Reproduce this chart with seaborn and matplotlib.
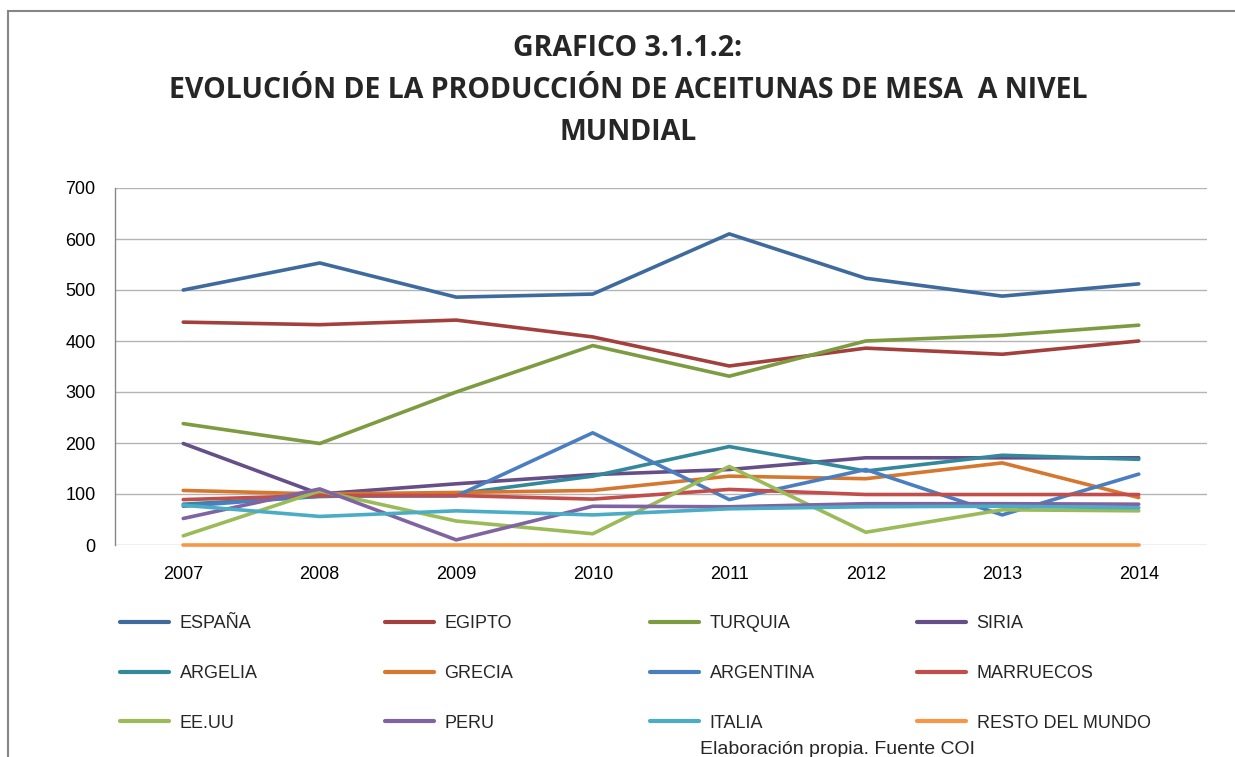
import numpy as np
import pandas as pd
import matplotlib
matplotlib.use("Agg")
import matplotlib.pyplot as plt
from matplotlib.patches import Rectangle
from matplotlib.lines import Line2D
import seaborn as sns

# ===== datos (miles de t) =====
years = ["2007", "2008", "2009", "2010", "2011", "2012", "2013", "2014"]
espana = [500, 553, 486, 492, 610, 523, 488, 512]
egipto = [437, 432, 441, 408, 351, 386, 374, 400]
turquia = [238, 199, 300, 391, 331, 400, 411, 431]
siria = [199, 100, 120, 138, 148, 171, 171, 171]
argelia = [80, 95, 100, 135, 193, 145, 176, 168]
grecia = [107, 100, 103, 107, 135, 130, 161, 93]
argentina = [76, 96, 96, 220, 89, 148, 59, 139]
marruecos = [89, 97, 97, 90, 109, 99, 99, 99]
eeuu = [18, 106, 47, 22, 154, 25, 69, 67]
peru = [52, 110, 10, 76, 75, 81, 81, 80]
italia = [78, 56, 67, 59, 71, 75, 76, 73]
resto = [0, 0, 0, 0, 0, 0, 0, 0]

series = ["ESPAÑA", "EGIPTO", "TURQUIA", "SIRIA", "ARGELIA", "GRECIA",
          "ARGENTINA", "MARRUECOS", "EE.UU", "PERU", "ITALIA", "RESTO DEL MUNDO"]
values = [espana, egipto, turquia, siria, argelia, grecia,
          argentina, marruecos, eeuu, peru, italia, resto]
colors = ["#3F6A9E", "#A3403D", "#7D9B40", "#664E88", "#33889C", "#D5772E",
          "#4A7EC0", "#C24D4A", "#9BBB59", "#8064A2", "#4BACC6", "#F79646"]

df = pd.DataFrame([(s, y, v) for s, vals in zip(series, values)
                   for y, v in zip(years, vals)], columns=["pais", "anio", "valor"])

sns.set_style("white")
plt.rcParams["font.family"] = ["Liberation Sans Narrow", "Liberation Sans", "DejaVu Sans"]

fig = plt.figure(figsize=(12.35, 7.57), dpi=100)
ax = fig.add_axes([115 / 1235, 1 - 545 / 757, (1207 - 115) / 1235, (545 - 188) / 757])

sns.lineplot(data=df, x="anio", y="valor", hue="pais", hue_order=series,
             palette=colors, linewidth=2.6, ax=ax, legend=False, sort=False)
for ln in ax.get_lines():
    ln.set_clip_on(False)

ax.set_xlim(-0.5, 7.5)
ax.set_ylim(0, 700)
ax.set_yticks(range(0, 701, 100))
ax.set_xlabel(""); ax.set_ylabel("")
ax.grid(axis="y", color="#B4B4B4", linewidth=1.0)
ax.set_axisbelow(True)
for s in ["top", "right", "bottom"]:
    ax.spines[s].set_visible(False)
ax.spines["left"].set_color("#868686")
ax.spines["left"].set_linewidth(1.0)
ax.tick_params(axis="both", length=0, labelsize=13, colors="#000000")
ax.tick_params(axis="y", pad=14)
ax.tick_params(axis="x", pad=15)

# titulo
tfam = ["Open Sans", "DejaVu Sans"]
fig.text(628 / 1235, 1 - 48 / 757, "GRAFICO 3.1.1.2:", ha="center", va="center",
         fontsize=20.5, fontweight="bold", family=tfam)
fig.text(628 / 1235, 1 - 90 / 757, "EVOLUCIÓN DE LA PRODUCCIÓN DE ACEITUNAS DE MESA  A NIVEL",
         ha="center", va="center", fontsize=20.5, fontweight="bold", family=tfam)
fig.text(628 / 1235, 1 - 132 / 757, "MUNDIAL", ha="center", va="center",
         fontsize=20.5, fontweight="bold", family=tfam)

# leyenda: 4 columnas, 3 filas
col_x = [120, 385, 650, 917]
for c in range(4):
    idx = [r * 4 + c for r in range(3)]
    hs = [Line2D([], [], color=colors[i], linewidth=3) for i in idx]
    fig.legend(hs, [series[i] for i in idx], loc="upper left",
               bbox_to_anchor=(col_x[c] / 1235, 1 - 615 / 757), frameon=False,
               fontsize=13, handlelength=2.7, handletextpad=0.6,
               labelspacing=1.82, borderpad=0, borderaxespad=0)

fig.text(700 / 1235, 1 - 741 / 757, "Elaboración propia. Fuente COI", ha="left", va="top",
         fontsize=14)

# borde del grafico
fig.add_artist(Rectangle((8 / 1235, -0.2), 1.2, 1.2 - 11 / 757, transform=fig.transFigure,
                         fill=False, edgecolor="#868686", linewidth=1.5, clip_on=False))

fig.savefig("out.png", dpi=100)
